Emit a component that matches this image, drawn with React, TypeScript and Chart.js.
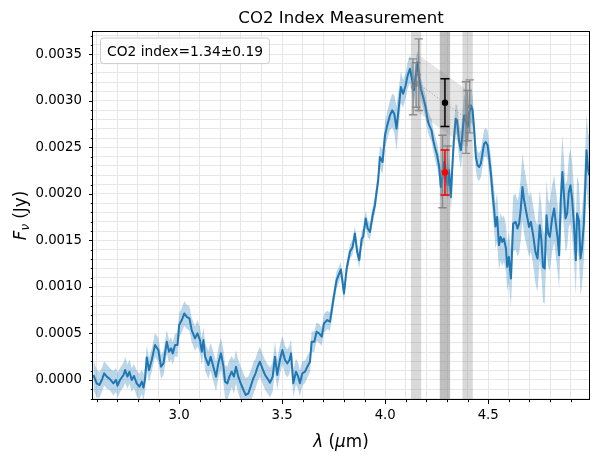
import { useEffect, useRef } from "react";
import { Chart, registerables } from "chart.js";

Chart.register(...registerables);

const FONT = '"DejaVu Sans", sans-serif';
const TITLE = "CO2 Index Measurement";
const LEGEND_TEXT = "CO2 index=1.34\u00b10.19";

// Spectrum (wavelength in micron, flux in 1e-4 Jy)
const WAVELENGTH = [
  2.584, 2.600, 2.613, 2.625, 2.636, 2.649, 2.665, 2.681, 2.694, 2.701,
  2.713, 2.730, 2.738, 2.749, 2.759, 2.770, 2.781, 2.794, 2.807, 2.819,
  2.827, 2.835, 2.843, 2.854, 2.867, 2.883, 2.899, 2.912, 2.924, 2.940,
  2.951, 2.961, 2.969, 2.980, 2.992, 3.000, 3.013, 3.025, 3.037, 3.050,
  3.061, 3.077, 3.089, 3.101, 3.110, 3.118, 3.126, 3.142, 3.153, 3.166,
  3.179, 3.190, 3.203, 3.215, 3.223, 3.234, 3.244, 3.255, 3.266, 3.276,
  3.287, 3.299, 3.312, 3.323, 3.336, 3.347, 3.360, 3.371, 3.381, 3.392,
  3.404, 3.417, 3.428, 3.441, 3.454, 3.465, 3.476, 3.489, 3.501, 3.514,
  3.525, 3.535, 3.543, 3.554, 3.567, 3.578, 3.586, 3.598, 3.611, 3.622,
  3.635, 3.643, 3.656, 3.667, 3.679, 3.692, 3.703, 3.719, 3.732, 3.748,
  3.764, 3.785, 3.800, 3.813, 3.829, 3.842, 3.853, 3.864, 3.874, 3.886,
  3.893, 3.905, 3.915, 3.926, 3.939, 3.950, 3.958, 3.966, 3.974, 3.987,
  3.999, 4.010, 4.023, 4.034, 4.044, 4.055, 4.067, 4.076, 4.087, 4.099,
  4.109, 4.120, 4.131, 4.139, 4.149, 4.157, 4.165, 4.173, 4.184, 4.196,
  4.206, 4.214, 4.225, 4.233, 4.241, 4.252, 4.262, 4.270, 4.278, 4.286,
  4.294, 4.303, 4.310, 4.319, 4.325, 4.333, 4.342, 4.349, 4.358, 4.367,
  4.375, 4.383, 4.391, 4.400, 4.407, 4.416, 4.424, 4.432, 4.440, 4.448,
  4.456, 4.464, 4.472, 4.480, 4.488, 4.497, 4.504, 4.513, 4.521, 4.529,
  4.535, 4.543, 4.552, 4.560, 4.568, 4.576, 4.586, 4.592, 4.600, 4.610,
  4.621, 4.633, 4.642, 4.650, 4.658, 4.666, 4.674, 4.686, 4.698, 4.707,
  4.718, 4.729, 4.739, 4.750, 4.758, 4.766, 4.774, 4.783, 4.791, 4.799,
  4.810, 4.820, 4.828, 4.836, 4.844, 4.852, 4.860, 4.867, 4.875, 4.883,
  4.891, 4.899, 4.907, 4.917, 4.925, 4.931, 4.940, 4.948, 4.955, 4.964,
  4.972, 4.977, 4.984, 4.990,
];

const FLUX_E4 = [
  0.54, -0.36, -0.54, 0, 0.72, 0.36, 0.07, -0.36, 0, -0.61,
  0, 0.54, 1.07, 0.36, 0.89, 0, 0.43, -0.36, -0.72, -0.18,
  -0.82, 0.18, 2.43, 1.07, 2.15, 3.76, 3.22, 1.43, 1.79, 4.11,
  3.04, 3.40, 2.86, 3.76, 3.76, 5.90, 6.44, 7.15, 6.79, 6.62,
  5.36, 4.47, 5.01, 4.29, 3.04, 4.29, 2.50, 1.61, 2.50, 1.43,
  0.36, 1.79, 2.86, 1.43, -0.18, -0.36, 0.36, 0.89, 0.36, 1.43,
  0.36, -0.36, -1.07, -1.61, -1.43, -0.72, 0.18, 0.72, 1.43, 1.96,
  1.25, 0.54, 0.18, -0.29, 0.36, 2.50, 0.54, 2.15, 3.22, 2.15,
  1.79, 2.15, 2.86, -0.36, 0.89, 0.36, -0.36, 0.72, 0.89, 1.43,
  1.96, 4.11, 4.11, 5.18, 5.01, 4.65, 6.08, 6.44, 6.26, 8.58,
  10.73, 11.88, 9.30, 11.98, 13.77, 14.30, 15.74, 13.77, 12.88, 15.20,
  15.38, 17.35, 16.28, 15.91, 17.70, 18.78, 20.20, 21.46, 23.96, 23.42,
  26.29, 27.36, 28.43, 28.97, 28.61, 27.0, 29.51, 31.47, 30.76, 31.65,
  32.73, 33.44, 32.19, 31.12, 32.73, 34.15, 32.37, 31.30, 30.4, 29.33,
  27.90, 27.36, 26.82, 25.75, 25.03, 24.14, 22.89, 20.74, 21.82, 23.42,
  22.18, 20.92, 22.53, 19.67, 22.53, 25.75, 28.08, 27.90, 25.75, 24.68,
  26.51, 28.43, 27.90, 27.18, 28.61, 29.51, 28.97, 26.82, 23.96, 23.07,
  22.89, 23.25, 24.32, 25.39, 25.57, 25.21, 23.96, 22.18, 20.03, 18.24,
  16.5, 17.52, 14.48, 15.38, 14.84, 15.20, 14.13, 12.16, 13.23, 10.91,
  16.81, 16.99, 16.28, 16.81, 18.42, 20.74, 19.31, 17.88, 16.45, 16.99,
  15.56, 13.77, 13.06, 16.63, 15.02, 12.16, 11.98, 17.70, 15.74, 15.38,
  17.35, 18.42, 16.81, 15.38, 13.41, 19.31, 22.35, 20.03, 17.35, 17.88,
  20.20, 20.92, 19.50, 16.28, 12.88, 17.88, 17.17, 13.06, 14.13, 16.81,
  21.46, 24.68, 22.71, 22.0,
];

const FLUX_ERR_E4 = [
  1.6, 1.5, 1.4, 1.3, 1.3, 1.3, 1.2, 1.3, 1.3, 1.4,
  1.3, 1.3, 1.4, 1.3, 1.3, 1.3, 1.3, 1.4, 1.4, 1.3,
  1.4, 1.3, 1.3, 1.3, 1.2, 1.3, 1.3, 1.3, 1.3, 1.3,
  1.2, 1.2, 1.2, 1.2, 1.3, 1.3, 1.3, 1.3, 1.3, 1.3,
  1.3, 1.3, 1.4, 1.4, 1.5, 1.4, 1.5, 1.5, 1.5, 1.6,
  1.6, 1.6, 1.7, 1.8, 1.8, 1.8, 1.8, 1.7, 1.8, 1.8,
  1.8, 1.8, 1.8, 1.8, 1.8, 1.7, 1.7, 1.6, 1.6, 1.6,
  1.6, 1.6, 1.6, 1.6, 1.6, 1.6, 1.6, 1.6, 1.5, 1.5,
  1.5, 1.5, 1.5, 1.5, 1.4, 1.4, 1.4, 1.3, 1.2, 1.2,
  1.1, 1.1, 1.1, 1.0, 1.0, 1.0, 1.0, 1.0, 1.0, 0.9,
  0.9, 0.8, 0.8, 0.8, 0.8, 0.8, 0.8, 0.8, 0.9, 0.9,
  0.9, 0.9, 0.9, 0.9, 0.9, 0.9, 1.0, 1.0, 1.2, 1.3,
  1.4, 1.5, 1.6, 1.8, 2.0, 2.4, 2.0, 1.7, 1.5, 1.4,
  1.4, 1.5, 1.6, 1.5, 1.4, 1.3, 1.3, 1.2, 1.2, 1.2,
  1.2, 1.2, 1.2, 1.2, 1.3, 1.3, 1.3, 1.4, 1.5, 1.5,
  1.5, 1.5, 1.5, 1.5, 1.5, 1.6, 1.6, 1.6, 1.8, 2.0,
  2.2, 2.3, 2.3, 2.2, 2.0, 1.8, 1.6, 1.5, 1.5, 1.5,
  1.5, 1.5, 1.5, 1.5, 1.5, 1.6, 1.7, 1.8, 2.0, 2.2,
  2.4, 2.6, 2.6, 2.6, 2.6, 2.5, 2.5, 2.6, 2.8, 3.0,
  3.0, 3.0, 3.0, 3.2, 3.4, 3.6, 3.6, 3.4, 3.2, 3.2,
  3.2, 3.4, 3.6, 3.8, 3.8, 3.8, 3.8, 3.8, 3.6, 3.6,
  3.6, 3.6, 3.6, 3.6, 3.6, 3.8, 4.0, 3.8, 3.6, 3.6,
  3.8, 4.0, 4.0, 3.8, 3.8, 4.0, 4.0, 4.0, 4.0, 4.0,
  4.0, 4.0, 4.0, 4.0,
];

// Shaded windows (micron)
const WINDOW_LEFT = [4.125, 4.175];
const WINDOW_BAND = [4.265, 4.315];
const WINDOW_RIGHT = [4.375, 4.425];

// Grey window points with error bars (1e-4 Jy)
const GREY_X = [4.135, 4.150, 4.163, 4.278, 4.302, 4.392, 4.400, 4.410];
const GREY_Y_E4 = [31.5, 31.7, 32.8, 22.4, 22.5, 28.2, 28.4, 29.4];
const GREY_ERR_E4 = [3.0, 2.4, 3.85, 3.9, 2.65, 3.85, 2.7, 2.85];

// Continuum fit line and its uncertainty (1e-4 Jy)
const CONT_X = [4.15, 4.40];
const CONT_Y_E4 = [32.0, 28.0];
const CONT_ERR_E4 = [3.1, 3.1];

// Interpolated continuum at band centre (black) and in-band flux (red)
const CONT_AT_BAND_X = [4.29];
const CONT_AT_BAND_Y_E4 = [29.8];
const CONT_AT_BAND_ERR_E4 = [2.56];
const BAND_FLUX_X = [4.29];
const BAND_FLUX_Y_E4 = [22.3];
const BAND_FLUX_ERR_E4 = [2.41];

// Axis ticks
const X_MIN = 2.582;
const X_MAX = 4.989;
const X_TICKS = [2.6, 2.7, 2.8, 2.9, 3.0, 3.1, 3.2, 3.3, 3.4, 3.5, 3.6, 3.7, 3.8, 3.9, 4.0, 4.1, 4.2, 4.3, 4.4, 4.5, 4.6, 4.7, 4.8, 4.9];
const X_MAJOR = [3.0, 3.5, 4.0, 4.5];
const Y_MIN_E4 = -2.15;
const Y_MAX_E4 = 37.5;
const Y_TICKS_E4 = [-2, -1, 0, 1, 2, 3, 4, 5, 6, 7, 8, 9, 10, 11, 12, 13, 14, 15, 16, 17, 18, 19, 20, 21, 22, 23, 24, 25, 26, 27, 28, 29, 30, 31, 32, 33, 34, 35, 36, 37];
const Y_MAJOR_E4 = [0, 5, 10, 15, 20, 25, 30, 35];

const E4 = 1e-4;
const isXMajor = (v: number) => X_MAJOR.some((m) => Math.abs(m - v) < 1e-6);
const isYMajor = (v: number) => Y_MAJOR_E4.some((m) => Math.abs(m * E4 - v) < 1e-9);

function drawErrorBar(chart: any, x: number, y: number, err: number, color: string, width: number, cap: number) {
  const { ctx, scales } = chart;
  const px = scales.x.getPixelForValue(x);
  const top = scales.y.getPixelForValue(y + err);
  const bot = scales.y.getPixelForValue(y - err);
  ctx.save();
  ctx.strokeStyle = color;
  ctx.lineWidth = width;
  ctx.beginPath();
  ctx.moveTo(px, top);
  ctx.lineTo(px, bot);
  ctx.moveTo(px - cap, top);
  ctx.lineTo(px + cap, top);
  ctx.moveTo(px - cap, bot);
  ctx.lineTo(px + cap, bot);
  ctx.stroke();
  ctx.restore();
}

function drawPieces(ctx: CanvasRenderingContext2D, pieces: { t: string; font: string; dy: number }[], cx: number, baseline: number) {
  let total = 0;
  for (const p of pieces) {
    ctx.font = p.font;
    total += ctx.measureText(p.t).width;
  }
  let x = cx - total / 2;
  ctx.textAlign = "left";
  ctx.textBaseline = "alphabetic";
  for (const p of pieces) {
    ctx.font = p.font;
    ctx.fillText(p.t, x, baseline + p.dy);
    x += ctx.measureText(p.t).width;
  }
}

const GREY_MARKER_INDEX = 6;
const BLACK_INDEX = 7;
const RED_INDEX = 8;

const decorPlugin = {
  id: "decor",
  beforeDatasetsDraw(chart: any) {
    const { ctx, chartArea: a, scales } = chart;
    ctx.save();
    const spans: [number[], string][] = [
      [WINDOW_LEFT, "rgba(128,128,128,0.3)"],
      [WINDOW_BAND, "rgba(128,128,128,0.5)"],
      [WINDOW_RIGHT, "rgba(128,128,128,0.3)"],
    ];
    for (const [r, c] of spans) {
      const x0 = scales.x.getPixelForValue(r[0]);
      const x1 = scales.x.getPixelForValue(r[1]);
      ctx.fillStyle = c;
      ctx.fillRect(x0, a.top, x1 - x0, a.bottom - a.top);
    }
    ctx.restore();
  },
  beforeDatasetDraw(chart: any, args: any) {
    if (args.index === GREY_MARKER_INDEX) {
      GREY_X.forEach((x, i) =>
        drawErrorBar(chart, x, GREY_Y_E4[i] * E4, GREY_ERR_E4[i] * E4, "rgba(128,128,128,0.85)", 1.4, 4.2)
      );
    } else if (args.index === BLACK_INDEX) {
      CONT_AT_BAND_X.forEach((x, i) =>
        drawErrorBar(chart, x, CONT_AT_BAND_Y_E4[i] * E4, CONT_AT_BAND_ERR_E4[i] * E4, "#000000", 1.5, 4.5)
      );
    } else if (args.index === RED_INDEX) {
      BAND_FLUX_X.forEach((x, i) =>
        drawErrorBar(chart, x, BAND_FLUX_Y_E4[i] * E4, BAND_FLUX_ERR_E4[i] * E4, "#ff0000", 1.5, 4.5)
      );
    }
  },
  afterDraw(chart: any) {
    const { ctx, chartArea: a, scales } = chart;
    ctx.save();
    // frame
    ctx.strokeStyle = "#000";
    ctx.lineWidth = 1;
    ctx.strokeRect(Math.round(a.left) - 0.5, Math.round(a.top) + 0.5, Math.round(a.right - a.left) + 1, Math.round(a.bottom - a.top) - 1);
    // tick marks
    ctx.beginPath();
    for (const t of scales.x.ticks) {
      const px = Math.round(scales.x.getPixelForValue(t.value)) + 0.5;
      const len = isXMajor(t.value) ? 4 : 2.2;
      ctx.moveTo(px, a.bottom);
      ctx.lineTo(px, a.bottom + len);
    }
    for (const t of scales.y.ticks) {
      const py = Math.round(scales.y.getPixelForValue(t.value)) + 0.5;
      const len = isYMajor(t.value) ? 4 : 2.2;
      ctx.moveTo(a.left, py);
      ctx.lineTo(a.left - len, py);
    }
    ctx.stroke();

    ctx.fillStyle = "#000";
    // title
    ctx.font = `16.6px ${FONT}`;
    ctx.textAlign = "center";
    ctx.textBaseline = "alphabetic";
    ctx.fillText(TITLE, (a.left + a.right) / 2, 22.7);

    // legend box
    ctx.font = `13.8px ${FONT}`;
    const tw = ctx.measureText(LEGEND_TEXT).width;
    const bx = a.left + 7.5;
    const by = a.top + 7;
    const bw = tw + 13;
    const bh = 25.6;
    ctx.beginPath();
    ctx.roundRect(bx, by, bw, bh, 3);
    ctx.fillStyle = "rgba(255,255,255,0.8)";
    ctx.fill();
    ctx.strokeStyle = "#cccccc";
    ctx.lineWidth = 1;
    ctx.stroke();
    ctx.fillStyle = "#000";
    ctx.textAlign = "left";
    ctx.fillText(LEGEND_TEXT, bx + 6.5, by + 17.9);

    // x axis label
    const n = `16.8px ${FONT}`;
    const it = `italic 16.8px ${FONT}`;
    drawPieces(ctx, [
      { t: "\u03bb", font: it, dy: 0 },
      { t: " (", font: n, dy: 0 },
      { t: "\u03bc", font: it, dy: 0 },
      { t: "m)", font: n, dy: 0 },
    ], (a.left + a.right) / 2, 447);

    // y axis label
    ctx.save();
    ctx.translate(25.5, (a.top + a.bottom) / 2);
    ctx.rotate(-Math.PI / 2);
    drawPieces(ctx, [
      { t: "F", font: it, dy: 0 },
      { t: "\u03bd", font: `italic 11.8px ${FONT}`, dy: 3.6 },
      { t: " (Jy)", font: n, dy: 0 },
    ], 0, 0);
    ctx.restore();
    ctx.restore();
  },
};

export default function App() {
  const ref = useRef<HTMLCanvasElement>(null);

  useEffect(() => {
    const canvas = ref.current;
    if (!canvas) return;

    const spec = WAVELENGTH.map((x, i) => ({ x, y: FLUX_E4[i] * E4 }));
    const specHi = WAVELENGTH.map((x, i) => ({ x, y: (FLUX_E4[i] + FLUX_ERR_E4[i]) * E4 }));
    const specLo = WAVELENGTH.map((x, i) => ({ x, y: (FLUX_E4[i] - FLUX_ERR_E4[i]) * E4 }));
    const contLine = CONT_X.map((x, i) => ({ x, y: CONT_Y_E4[i] * E4 }));
    const contHi = CONT_X.map((x, i) => ({ x, y: (CONT_Y_E4[i] + CONT_ERR_E4[i]) * E4 }));
    const contLo = CONT_X.map((x, i) => ({ x, y: (CONT_Y_E4[i] - CONT_ERR_E4[i]) * E4 }));
    const grey = GREY_X.map((x, i) => ({ x, y: GREY_Y_E4[i] * E4 }));
    const black = CONT_AT_BAND_X.map((x, i) => ({ x, y: CONT_AT_BAND_Y_E4[i] * E4 }));
    const red = BAND_FLUX_X.map((x, i) => ({ x, y: BAND_FLUX_Y_E4[i] * E4 }));

    const chart = new Chart(canvas, {
      type: "line",
      data: {
        datasets: [
          { data: specHi, fill: "+1", backgroundColor: "rgba(31,119,180,0.3)", borderWidth: 0, pointRadius: 0, order: 10 } as any,
          { data: specLo, fill: false, borderWidth: 0, pointRadius: 0, order: 10 } as any,
          { data: spec, fill: false, borderColor: "#1f77b4", borderWidth: 2, pointRadius: 0, tension: 0, borderJoinStyle: "round", order: 9 } as any,
          { data: contHi, fill: "+1", backgroundColor: "rgba(128,128,128,0.2)", borderWidth: 0, pointRadius: 0, order: 8 } as any,
          { data: contLo, fill: false, borderWidth: 0, pointRadius: 0, order: 8 } as any,
          { data: contLine, fill: false, borderColor: "rgba(128,128,128,0.8)", borderWidth: 0.9, borderDash: [1.2, 2], pointRadius: 2, pointBackgroundColor: "rgba(128,128,128,0.8)", pointBorderWidth: 0, order: 7 } as any,
          { type: "scatter", data: grey, pointRadius: 2, pointBackgroundColor: "rgba(128,128,128,0.85)", pointBorderWidth: 0, order: 6 } as any,
          { type: "scatter", data: black, pointRadius: 3.2, pointBackgroundColor: "#000", pointBorderWidth: 0, order: 5 } as any,
          { type: "scatter", data: red, pointRadius: 3.2, pointBackgroundColor: "#ff0000", pointBorderWidth: 0, order: 4 } as any,
        ],
      },
      options: {
        responsive: false,
        devicePixelRatio: 1,
        animation: false,
        events: [],
        layout: { padding: { top: 31, left: 0, right: 10, bottom: 0 } },
        plugins: { legend: { display: false }, tooltip: { enabled: false }, title: { display: false } },
        scales: {
          x: {
            type: "linear",
            min: X_MIN,
            max: X_MAX,
            bounds: "data",
            afterFit: (s: any) => { s.height = 58; },
            afterBuildTicks: (s: any) => { s.ticks = X_TICKS.map((v) => ({ value: v })); },
            grid: { color: "#e6e6e6", lineWidth: 1, drawTicks: false },
            border: { display: false },
            ticks: {
              autoSkip: false,
              maxRotation: 0,
              minRotation: 0,
              padding: 8,
              color: "#000",
              font: { family: FONT, size: 13.3 },
              callback: (v: any) => (isXMajor(Number(v)) ? Number(v).toFixed(1) : ""),
            },
          },
          y: {
            type: "linear",
            min: Y_MIN_E4 * E4,
            max: Y_MAX_E4 * E4,
            bounds: "data",
            afterFit: (s: any) => { s.width = 93; },
            afterBuildTicks: (s: any) => { s.ticks = Y_TICKS_E4.map((v) => ({ value: v * E4 })); },
            grid: { color: "#e6e6e6", lineWidth: 1, drawTicks: false },
            border: { display: false },
            ticks: {
              autoSkip: false,
              padding: 11,
              color: "#000",
              font: { family: FONT, size: 13.3 },
              callback: (v: any) => (isYMajor(Number(v)) ? Number(v).toFixed(4) : ""),
            },
          },
        },
      } as any,
      plugins: [decorPlugin as any],
    });

    return () => chart.destroy();
  }, []);

  return (
    <div style={{ position: "fixed", left: 0, top: 0, width: 599, height: 458, background: "#fff" }}>
      <canvas ref={ref} width={599} height={458} style={{ display: "block", width: 599, height: 458 }} />
    </div>
  );
}
